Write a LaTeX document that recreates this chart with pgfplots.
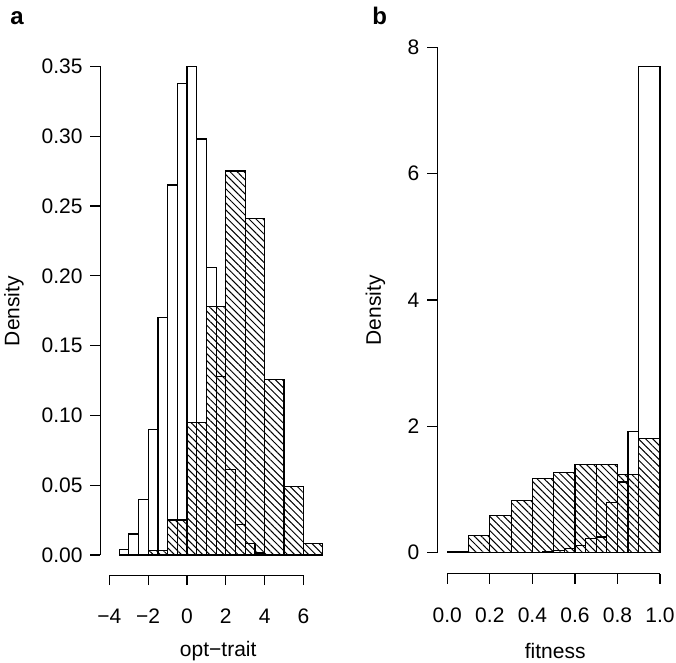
\documentclass[border=0pt]{standalone}
\usepackage{fontspec}
\setmainfont{Liberation Sans}
\usepackage{pgfplots}
\pgfplotsset{compat=1.18}
\usetikzlibrary{patterns.meta}

% R-style histogram panels
\pgfplotsset{
  rhist/.style={
    axis x line*=bottom, axis y line*=left,
    tick align=outside, major tick length=5pt,
    every tick/.style={black, line width=0.6pt},
    axis line style={black, line width=0.6pt},
    tick label style={font=\fontsize{10.5}{12}\selectfont, inner sep=0pt},
    label style={font=\fontsize{10.5}{12}\selectfont},
    xticklabel style={anchor=base, yshift=-19.25pt},
    yticklabel style={anchor=east, xshift=-3.75pt},
    clip=false,
  },
  whitebar/.style={ybar interval, draw=black, line width=0.6pt, fill=white},
  hatchbar/.style={ybar interval, draw=black, line width=0.6pt,
    pattern={Lines[angle=-45,distance=2.5pt,line width=0.5pt]}},
}

\begin{document}
\begin{tikzpicture}
\path[use as bounding box] (0,0) rectangle (338pt,-331.5pt);

\node[anchor=base west, inner sep=0pt, font=\bfseries\fontsize{12}{14}\selectfont] at (5pt,-12.5pt) {a};
\node[anchor=base west, inner sep=0pt, font=\bfseries\fontsize{12}{14}\selectfont] at (186pt,-12.5pt) {b};

% panel a
\begin{axis}[rhist,
  at={(50.24pt,-287.62pt)}, anchor=south west,
  x=9.7pt, y=698pt,
  xmin=-4.46, xmax=7.44, ymin=-0.0145, ymax=0.364,
  x axis line style={shorten <=4.46pt, shorten >=13.97pt},
  y axis line style={shorten <=10.12pt, shorten >=9.77pt},
  xtick={-4,-2,0,2,4,6},
  xticklabels={−4,−2,0,2,4,6},
  ytick={0,0.05,0.1,0.15,0.2,0.25,0.3,0.35},
  yticklabels={0.00,0.05,0.10,0.15,0.20,0.25,0.30,0.35},
  xlabel={opt−trait}, ylabel={Density},
  xlabel style={at={(axis description cs:0.51,-0.153)}, anchor=base},
  ylabel style={at={(axis description cs:-0.3747,0.5)}, anchor=center},
]
\addplot[whitebar] coordinates {
  (-3.5,0.004) (-3.0,0.015) (-2.5,0.040) (-2.0,0.090) (-1.5,0.170)
  (-1.0,0.265) (-0.5,0.338) (0.0,0.350) (0.5,0.298) (1.0,0.206)
  (1.5,0.128) (2.0,0.061) (2.5,0.022) (3.0,0.008) (3.5,0.0015) (4.0,0)
};
\addplot[hatchbar] coordinates {
  (-2,0.003) (-1,0.025) (0,0.095) (1,0.178) (2,0.275) (3,0.241)
  (4,0.126) (5,0.049) (6,0.008) (7,0)
};
\end{axis}

% panel b
\begin{axis}[rhist,
  at={(218.65pt,-286.8pt)}, anchor=south west,
  x=106.35pt, y=31.6pt,
  xmin=-0.047, xmax=1.04, ymin=-0.33, ymax=8.33,
  x axis line style={shorten <=5pt, shorten >=4.25pt},
  y axis line style={shorten <=10.43pt, shorten >=10.43pt},
  xtick={0,0.2,0.4,0.6,0.8,1},
  xticklabels={0.0,0.2,0.4,0.6,0.8,1.0},
  ytick={0,2,4,6,8},
  yticklabels={0,2,4,6,8},
  xlabel={fitness}, ylabel={Density},
  xlabel style={at={(axis description cs:0.51,-0.155)}, anchor=base},
  ylabel style={at={(axis description cs:-0.2673,0.481)}, anchor=center},
]
\addplot[whitebar] coordinates {
  (0.00,0) (0.05,0) (0.10,0) (0.15,0) (0.20,0) (0.25,0) (0.30,0) (0.35,0)
  (0.40,0.01) (0.45,0.02) (0.50,0.04) (0.55,0.07) (0.60,0.12) (0.65,0.22)
  (0.70,0.25) (0.75,0.80) (0.80,1.12) (0.85,1.92) (0.90,7.70) (1.00,0)
};
\addplot[hatchbar] coordinates {
  (0.0,0.02) (0.1,0.27) (0.2,0.585) (0.3,0.826) (0.4,1.17) (0.5,1.275)
  (0.6,1.40) (0.7,1.40) (0.8,1.24) (0.9,1.81) (1.0,0)
};
\end{axis}
\end{tikzpicture}
\end{document}
